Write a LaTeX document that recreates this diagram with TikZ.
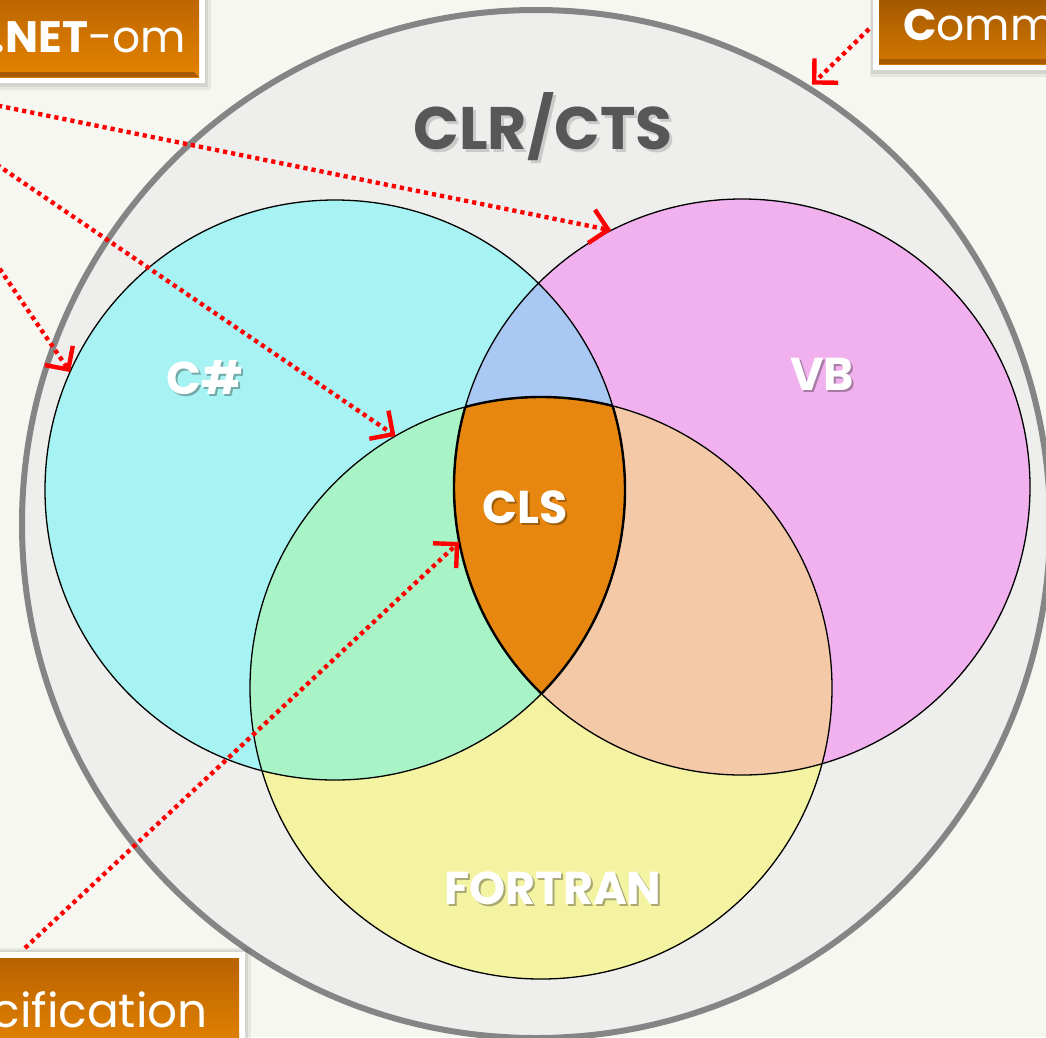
\documentclass[tikz,border=0pt]{standalone}
\usepackage{fontspec}
\setmainfont{Poppins}
\usetikzlibrary{arrows.meta}
\definecolor{bgc}{HTML}{F7F7F1}
\definecolor{outerfill}{HTML}{EEEEEC}
\definecolor{outerline}{HTML}{858585}
\definecolor{cC}{HTML}{A7F3F3}
\definecolor{cV}{HTML}{F0B1EE}
\definecolor{cF}{HTML}{F3F3A2}
\definecolor{cCV}{HTML}{A9C8F3}
\definecolor{cCF}{HTML}{A9F4C6}
\definecolor{cVF}{HTML}{F4C9A8}
\definecolor{cAll}{HTML}{E8870F}
\definecolor{boxT}{HTML}{B86200}
\definecolor{boxB}{HTML}{E58300}
\definecolor{boxEdge}{HTML}{A85A00}
\definecolor{titlec}{HTML}{575757}
\begin{document}
\begin{tikzpicture}[x=1pt,y=-1pt,
  venn/.style={circle,draw=black,line width=1.3pt,minimum size=#1,inner sep=0pt,outer sep=0pt},
  lbl/.style={text=white,font=\bfseries\fontsize{46}{56}\selectfont,inner sep=0pt},
  lblsh/.style={text=black,opacity=.3,font=\bfseries\fontsize{46}{56}\selectfont,inner sep=0pt},
  boxtxt/.style={text=white,font=\fontsize{44}{52}\selectfont,inner sep=0pt},
  ptr/.style={draw=red,line width=4.4pt,dash pattern=on 4.2pt off 4pt,-{Straight Barb[length=17pt,width=34pt,line width=4.4pt]}},
]
\useasboundingbox (0,0) rectangle (1046,1037);
\clip (0,0) rectangle (1046,1037);
\fill[bgc] (0,0) rectangle (1046,1037);

% outer circle
\node[circle,draw=outerline,fill=outerfill,line width=6pt,minimum size=1028pt,inner sep=0pt,outer sep=0pt] (outer) at (536,524) {};

% venn fills
\fill[cC] (335,490) circle[radius=290];
\fill[cV] (742,487) circle[radius=288];
\fill[cF] (541,688) circle[radius=291];
\begin{scope}
  \clip (335,490) circle[radius=290];
  \fill[cCV] (742,487) circle[radius=288];
  \fill[cCF] (541,688) circle[radius=291];
\end{scope}
\begin{scope}
  \clip (742,487) circle[radius=288];
  \fill[cVF] (541,688) circle[radius=291];
\end{scope}
\begin{scope}
  \clip (335,490) circle[radius=290];
  \clip (742,487) circle[radius=288];
  \fill[cAll] (541,688) circle[radius=291];
\end{scope}

% venn outlines
\node[venn=580pt] (cs) at (335,490) {};
\node[venn=576pt] (vb) at (742,487) {};
\node[venn=582pt] (ft) at (541,688) {};

% thick outline of the common region
\begin{scope}
  \clip (742,487) circle[radius=288];
  \clip (541,688) circle[radius=291];
  \draw[line width=2.4pt] (335,490) circle[radius=290];
\end{scope}
\begin{scope}
  \clip (335,490) circle[radius=290];
  \clip (541,688) circle[radius=291];
  \draw[line width=2.4pt] (742,487) circle[radius=288];
\end{scope}
\begin{scope}
  \clip (335,490) circle[radius=290];
  \clip (742,487) circle[radius=288];
  \draw[line width=2.4pt] (541,688) circle[radius=291];
\end{scope}

% labels
\node[text=black,opacity=.15,font=\bfseries\fontsize{60}{70}\selectfont,inner sep=0pt] (titlesh) at (546,130) {CLR/CTS};
\node[text=titlec,font=\bfseries\fontsize{60}{70}\selectfont,inner sep=0pt] (title) at (543,127) {CLR/CTS};
\node[lblsh] (cslsh) at (207,380) {C\#};
\node[lbl] (csl) at (205,378) {C\#};
\node[lblsh] (vblsh) at (824,376) {VB};
\node[lbl] (vbl) at (822,374) {VB};
\node[lblsh] (clslsh) at (527,509) {CLS};
\node[lbl] (clsl) at (525,507) {CLS};
\node[lblsh] (ftlsh) at (555,890) {FORTRAN};
\node[lbl] (ftl) at (553,888) {FORTRAN};

% boxes
% top-left
\fill[black,opacity=.06] (-20,-10) rectangle (211,90);
\fill[black,opacity=.08] (-20,-10) rectangle (208,87);
\fill[white] (-20,-10) rectangle (205,83);
\shade[top color=boxT,bottom color=boxB] (-20,-10) rectangle (199,77);
\fill[boxEdge] (-20,72) -- (194,72) -- (199,77) -- (-20,77) -- cycle;
\node[boxtxt,anchor=base east] (box1) at (186,52) {\textbf{.NET}-om};
% top-right
\fill[black,opacity=.06] (870,-10) rectangle (1060,77);
\fill[black,opacity=.08] (871,-10) rectangle (1060,74);
\fill[white] (873,-10) rectangle (1060,70);
\shade[top color=boxT!85!black,bottom color=boxB!92!black] (879,-10) rectangle (1060,64);
\fill[boxEdge] (879,59) -- (1060,59) -- (1060,64) -- (879,64) -- cycle;
\node[boxtxt,anchor=base west] (box2) at (903,40) {\textbf{C}omm};
% bottom-left
\fill[black,opacity=.06] (-20,948) rectangle (251,1050);
\fill[black,opacity=.08] (-20,950) rectangle (248,1050);
\fill[white] (-20,952) rectangle (245,1050);
\shade[top color=boxT,bottom color=boxB] (-20,958) rectangle (239,1050);
\node[boxtxt,anchor=base east,font=\fontsize{47}{56}\selectfont] (box3) at (208,1027) {cification};

% pointers
\coordinate (s1) at (-10,104);
\coordinate (s2) at (-10,160);
\coordinate (s3) at (-5,262);
\coordinate (s4) at (869,29);
\coordinate (s5) at (25,948);
\draw[ptr] (s1) -- (vb.117);
\draw[ptr] (s2) -- (ft.120.1);
\draw[ptr] (s3) -- (cs.156.4);
\draw[ptr,shorten >=5pt] (s4) -- (outer.58.4);
\draw[ptr] (s5) -- (vb.191.4);
\end{tikzpicture}
\end{document}
